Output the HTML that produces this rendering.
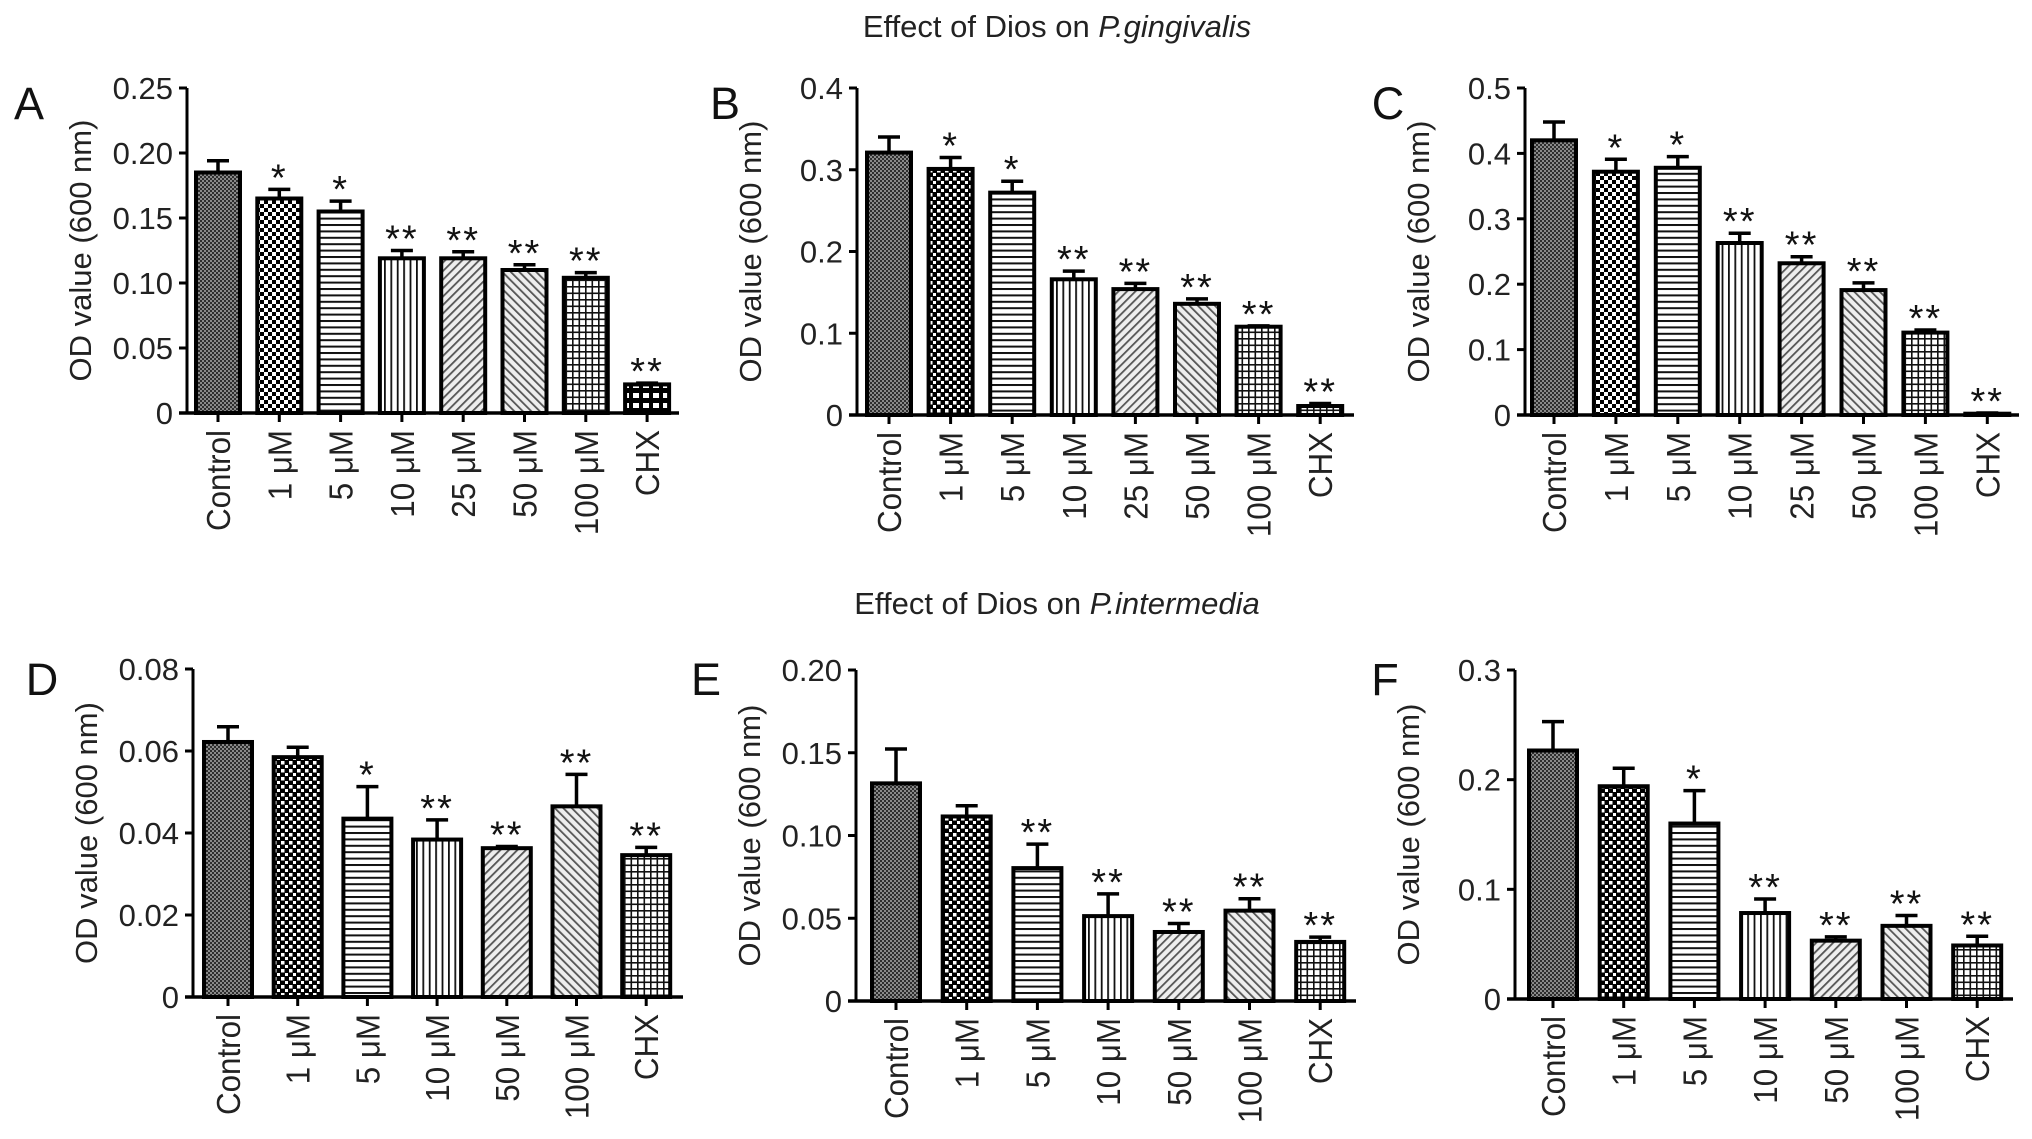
<!DOCTYPE html>
<html><head><meta charset="utf-8">
<style>
html,body{margin:0;padding:0;background:#fff;}
svg{display:block;font-family:"Liberation Sans",Arial,sans-serif;}
</style></head>
<body>
<svg id="fig" width="2032" height="1139" viewBox="0 0 2032 1139" xmlns="http://www.w3.org/2000/svg">
<defs>
  <pattern id="p-ctrl" patternUnits="userSpaceOnUse" width="4" height="4"><rect width="4" height="4" fill="#8a8a8a"/><rect width="2" height="2" fill="#2e2e2e"/><rect x="2" y="2" width="2" height="2" fill="#2e2e2e"/></pattern>
  <pattern id="p-check" patternUnits="userSpaceOnUse" width="8" height="8"><rect width="8" height="8" fill="#fff"/><rect width="4" height="4" fill="#000"/><rect x="4" y="4" width="4" height="4" fill="#000"/></pattern>
  <pattern id="p-dots" patternUnits="userSpaceOnUse" width="8" height="8"><rect width="8" height="8" fill="#000"/><rect x="1" y="1" width="3.5" height="3.5" fill="#fff"/><rect x="5" y="5" width="3" height="3" fill="#fff"/></pattern>
  <pattern id="p-h" patternUnits="userSpaceOnUse" width="8" height="6.4"><rect width="8" height="6.4" fill="#fff"/><rect y="0" width="8" height="2" fill="#111"/></pattern>
  <pattern id="p-v" patternUnits="userSpaceOnUse" width="6.4" height="8"><rect width="6.4" height="8" fill="#fff"/><rect x="0" width="1.8" height="8" fill="#111"/></pattern>
  <pattern id="p-d1" patternUnits="userSpaceOnUse" width="6" height="6" patternTransform="rotate(45)"><rect width="6" height="6" fill="#eee"/><rect width="1.8" height="6" fill="#555"/></pattern>
  <pattern id="p-d2" patternUnits="userSpaceOnUse" width="6" height="6" patternTransform="rotate(-45)"><rect width="6" height="6" fill="#eee"/><rect width="1.8" height="6" fill="#555"/></pattern>
  <pattern id="p-grid" patternUnits="userSpaceOnUse" width="6.5" height="6.5"><rect width="6.5" height="6.5" fill="#fff"/><rect width="6.5" height="1.6" fill="#111"/><rect width="1.6" height="6.5" fill="#111"/></pattern>
  <pattern id="p-bgrid" patternUnits="userSpaceOnUse" width="10" height="10"><rect width="10" height="10" fill="#000"/><rect x="3" y="3" width="6" height="5" fill="#fff"/></pattern>
</defs>
<text x="1057" y="37" font-size="31" text-anchor="middle" fill="#222">Effect of Dios on <tspan font-style="italic">P.gingivalis</tspan></text>
<text x="1057" y="614" font-size="31" text-anchor="middle" fill="#222">Effect of Dios on <tspan font-style="italic">P.intermedia</tspan></text>
</svg>
<script>
const catsTop = ["Control","1 \u03bcM","5 \u03bcM","10 \u03bcM","25 \u03bcM","50 \u03bcM","100 \u03bcM","CHX"];
const catsBottom = ["Control","1 \u03bcM","5 \u03bcM","10 \u03bcM","50 \u03bcM","100 \u03bcM","CHX"];

const valuesA = [0.185,0.165,0.155,0.119,0.119,0.110,0.104,0.022];
const errA    = [0.194,0.172,0.163,0.125,0.124,0.114,0.108,0.023];
const starsA  = ["","*","*","**","**","**","**","**"];
const ticksA  = [0,0.05,0.10,0.15,0.20,0.25];
const tickLabelsA = ["0","0.05","0.10","0.15","0.20","0.25"];

const valuesB = [0.321,0.301,0.272,0.166,0.154,0.136,0.108,0.011];
const errB    = [0.340,0.315,0.286,0.176,0.161,0.142,0.109,0.014];
const starsB  = ["","*","*","**","**","**","**","**"];
const ticksB  = [0,0.1,0.2,0.3,0.4];
const tickLabelsB = ["0","0.1","0.2","0.3","0.4"];

const valuesC = [0.420,0.372,0.378,0.263,0.232,0.191,0.126,0.002];
const errC    = [0.448,0.391,0.395,0.278,0.242,0.202,0.130,0.003];
const starsC  = ["","*","*","**","**","**","**","**"];
const ticksC  = [0,0.1,0.2,0.3,0.4,0.5];
const tickLabelsC = ["0","0.1","0.2","0.3","0.4","0.5"];

const valuesD = [0.0622,0.0585,0.0435,0.0384,0.0363,0.0465,0.0346];
const errD    = [0.0659,0.0609,0.0513,0.0432,0.0367,0.0543,0.0365];
const starsD  = ["","","*","**","**","**","**"];
const ticksD  = [0,0.02,0.04,0.06,0.08];
const tickLabelsD = ["0","0.02","0.04","0.06","0.08"];

const valuesE = [0.1315,0.1115,0.0803,0.0513,0.0417,0.0546,0.0357];
const errE    = [0.1523,0.118,0.0948,0.0647,0.0468,0.0618,0.0386];
const starsE  = ["","","**","**","**","**","**"];
const ticksE  = [0,0.05,0.10,0.15,0.20];
const tickLabelsE = ["0","0.05","0.10","0.15","0.20"];

const valuesF = [0.2266,0.194,0.160,0.0784,0.0532,0.0667,0.0488];
const errF    = [0.2529,0.2104,0.190,0.0912,0.0566,0.0761,0.0572];
const starsF  = ["","","*","**","**","**","**"];
const ticksF  = [0,0.1,0.2,0.3];
const tickLabelsF = ["0","0.1","0.2","0.3"];

const NS = "http://www.w3.org/2000/svg";
const svg = document.getElementById("fig");
function mk(tag, attrs, parent){
  const e = document.createElementNS(NS, tag);
  for (const k in attrs) e.setAttribute(k, attrs[k]);
  (parent||svg).appendChild(e);
  return e;
}

const panels = [
 {id:"a",letter:"A",lx:29,ly:119,ax:187,top:88,zero:413,end:679,c0:218,step:61.3,bw:44,max:0.25,cats:catsTop,vals:valuesA,errs:errA,stars:starsA,ticks:ticksA,tl:tickLabelsA,pats:["p-ctrl","p-check","p-h","p-v","p-d1","p-d2","p-grid","p-bgrid"]},
 {id:"b",letter:"B",lx:725,ly:119,ax:857,top:88,zero:415,end:1354,c0:889,step:61.6,bw:44,max:0.4,cats:catsTop,vals:valuesB,errs:errB,stars:starsB,ticks:ticksB,tl:tickLabelsB,pats:["p-ctrl","p-dots","p-h","p-v","p-d1","p-d2","p-grid","p-grid"]},
 {id:"c",letter:"C",lx:1388,ly:119,ax:1525,top:88,zero:415,end:2019,c0:1554,step:61.9,bw:44,max:0.5,cats:catsTop,vals:valuesC,errs:errC,stars:starsC,ticks:ticksC,tl:tickLabelsC,pats:["p-ctrl","p-check","p-h","p-v","p-d1","p-d2","p-grid","p-grid"]},
 {id:"d",letter:"D",lx:42,ly:695,ax:193,top:669,zero:997,end:683,c0:228,step:69.7,bw:48,max:0.08,cats:catsBottom,vals:valuesD,errs:errD,stars:starsD,ticks:ticksD,tl:tickLabelsD,pats:["p-ctrl","p-dots","p-h","p-v","p-d1","p-d2","p-grid"]},
 {id:"e",letter:"E",lx:706,ly:695,ax:856,top:670,zero:1001,end:1356,c0:896,step:70.7,bw:48,max:0.20,cats:catsBottom,vals:valuesE,errs:errE,stars:starsE,ticks:ticksE,tl:tickLabelsE,pats:["p-ctrl","p-dots","p-h","p-v","p-d1","p-d2","p-grid"]},
 {id:"f",letter:"F",lx:1385,ly:695,ax:1515,top:670,zero:999,end:2013,c0:1553,step:70.7,bw:48,max:0.3,cats:catsBottom,vals:valuesF,errs:errF,stars:starsF,ticks:ticksF,tl:tickLabelsF,pats:["p-ctrl","p-dots","p-h","p-v","p-d1","p-d2","p-grid"]}
];

panels.forEach(p => {
  const g = mk("g", {});
  
  
  const y = v => p.zero - v / p.max * (p.zero - p.top);
  const x = i => p.c0 + i * p.step;

  const lt = mk("text", {x:p.lx, y:p.ly, "font-size":45, "text-anchor":"middle", fill:"#111"}, g);
  
  
  lt.textContent = p.letter;

  const yt = mk("text", {x:0, y:0, "font-size":31, "text-anchor":"middle", fill:"#222",
    transform:"translate(" + (p.ax - 96) + "," + ((p.top + p.zero) / 2) + ") rotate(-90)"}, g);
  
  
  yt.textContent = "OD value (600 nm)";

  p.vals.forEach((v, i) => {
    const cx = x(i), yb = y(v), ye = y(p.errs[i]);
    const eb = mk("path", {d:"M"+cx+" "+yb+"V"+ye+"M"+(cx-11)+" "+ye+"H"+(cx+11), stroke:"#000", "stroke-width":3.5, fill:"none"}, g);
    
    
    const r = mk("rect", {x:cx - p.bw/2, y:yb, width:p.bw, height:Math.max(0, p.zero - yb), fill:"url(#" + p.pats[i] + ")", stroke:"#000", "stroke-width":4}, g);
    
    
    if (p.stars[i]) {
      const s = mk("text", {x:cx, y:ye + 1, "font-size":38, "text-anchor":"middle", fill:"#111", "letter-spacing":"2"}, g);
      
      
      s.textContent = p.stars[i];
    }
  });

  const ya = mk("line", {x1:p.ax, y1:p.top, x2:p.ax, y2:p.zero, stroke:"#000", "stroke-width":3}, g);
  
  
  const xa = mk("line", {x1:p.ax - 8, y1:p.zero, x2:p.end, y2:p.zero, stroke:"#000", "stroke-width":3.5}, g);
  
  

  p.ticks.forEach((t, k) => {
    const ty = y(t);
    const tk = mk("line", {x1:p.ax - 8, y1:ty, x2:p.ax, y2:ty, stroke:"#000", "stroke-width":3}, g);
    
    
    const tl = mk("text", {x:p.ax - 14, y:ty + 11, "font-size":31, "text-anchor":"end", fill:"#222"}, g);
    
    
    tl.textContent = p.tl[k];
  });

  p.cats.forEach((c, i) => {
    const cx = x(i);
    const tk = mk("line", {x1:cx, y1:p.zero, x2:cx, y2:p.zero + 9, stroke:"#000", "stroke-width":3}, g);
    
    
    const cl = mk("text", {x:0, y:0, "font-size":33, "text-anchor":"end", fill:"#222",
      transform:"translate(" + (cx + 12) + "," + (p.zero + 17) + ") rotate(-90) scale(0.95,1)"}, g);
    
    
    cl.textContent = c;
  });
});
</script>
</body></html>
